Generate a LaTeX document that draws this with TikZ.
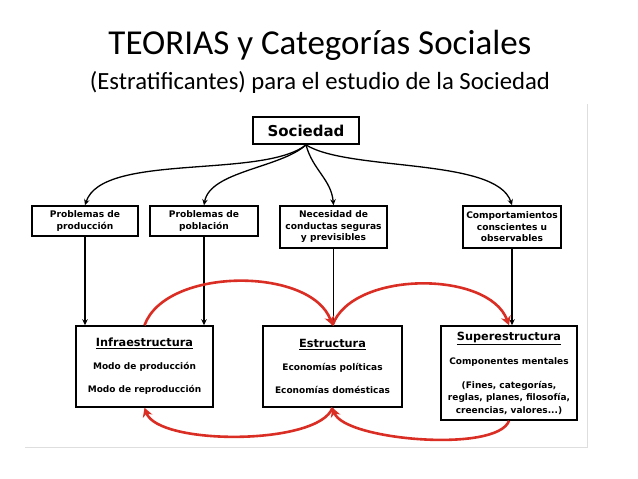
\documentclass[tikz,border=0pt]{standalone}
\usepackage{fontspec}
\setmainfont{Carlito}
\newfontfamily\boxfont{DejaVu Sans Bold}
\usetikzlibrary{arrows.meta}

\definecolor{arcred}{RGB}{218,45,35}
\definecolor{framegray}{RGB}{222,222,222}

\tikzset{
  topbox/.style={draw, line width=1.5pt, inner sep=0pt, align=center,
    font=\boxfont\fontsize{9.1}{11.5}\selectfont},
  layerbox/.style={draw, line width=1.5pt, inner sep=0pt, align=center,
    font=\boxfont\fontsize{9}{12.5}\selectfont},
  tree/.style={line width=1.3pt, -{Stealth[length=6pt,width=5.5pt]}},
  redarc/.style={arcred, line width=2.6pt, -{Stealth[length=9pt,width=10pt]}}
}

\begin{document}
\begin{tikzpicture}[x=1pt,y=-1pt]
    \useasboundingbox (0,0) rectangle (638,479);
    \node (title) at (320,45) {\fontsize{35}{40}\selectfont TEORIAS y Categorías Sociales};
    \node (subtitle) at (320,82) {\fontsize{24.7}{28}\selectfont (Estratificantes) para el estudio de la Sociedad};
    \draw[framegray, line width=1pt] (25,447) -- (587,447) -- (587,104);

    \node[topbox, line width=1.8pt, minimum width=106pt, minimum height=27pt,
      font=\boxfont\fontsize{15}{18}\selectfont] (sociedad) at (306,130.5) {Sociedad};

    \node[topbox, minimum width=106pt, minimum height=30pt] (produccion) at (85,221) {Problemas de\\producción};
    \node[topbox, minimum width=108pt, minimum height=30pt] (poblacion) at (204,221) {Problemas de\\población};
    \node[topbox, minimum width=107pt, minimum height=42pt] (conductas) at (333.5,227) {Necesidad de\\conductas seguras\\y previsibles};
    \node[topbox, minimum width=98pt, minimum height=42pt] (comportamientos) at (512,227) {Comportamientos\\conscientes u\\observables};

    \node[layerbox, minimum width=137pt, minimum height=81pt] (infra) at (144.5,366.5)
      {\fontsize{11.3}{12.5}\selectfont\underline{Infraestructura}\\[10pt]Modo de producción\\[11pt]Modo de reproducción};
    \node[layerbox, minimum width=139pt, minimum height=81pt] (estructura) at (332.5,366.5)
      {\fontsize{11.3}{12.5}\selectfont\underline{Estructura}\\[10pt]Economías políticas\\[11pt]Economías domésticas};
    \node[layerbox, minimum width=136pt, minimum height=94pt] (super) at (509,373)
      {\fontsize{11.3}{12.5}\selectfont\underline{Superestructura}\\[12pt]Componentes mentales\\[11pt](Fines, categorías,\\reglas, planes, filosofía,\\creencias, valores...)};

    % Sociedad hacia los problemas
    \draw[tree] (sociedad.south) to[out=218, in=72, looseness=0.62] (produccion.north);
    \draw[tree] (sociedad.south) to[out=222, in=80, looseness=0.75] (poblacion.north);
    \draw[tree] (sociedad.south) to[out=285, in=95] (conductas.north);
    \draw[tree] (sociedad.south) to[out=328, in=108, looseness=0.6] (comportamientos.north);

    \draw[tree] (produccion.south) -- (produccion.south |- infra.north);
    \draw[tree] (poblacion.south) -- (poblacion.south |- infra.north);
    \draw[tree] (conductas.south) -- (conductas.south |- estructura.north);
    \draw[tree] (comportamientos.south) -- (comportamientos.south |- super.north);

    % ciclo rojo
    \draw[redarc] (infra.north) to[out=70, in=110, looseness=0.85] (estructura.north);
    \draw[redarc] (estructura.north) to[out=70, in=110, looseness=0.85] (super.north);
    \draw[redarc] (super.south) to[out=250, in=290, looseness=0.5] (estructura.south);
    \draw[redarc] (estructura.south) to[out=250, in=290, looseness=0.55] (infra.south);
\end{tikzpicture}
\end{document}
